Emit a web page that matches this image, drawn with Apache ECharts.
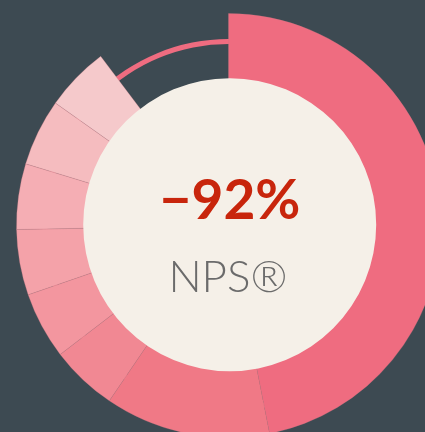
<!DOCTYPE html>
<html>
<head>
<meta charset="utf-8">
<script src="https://cdn.jsdelivr.net/npm/echarts@6/dist/echarts.min.js"></script>
<style>
  html, body { margin: 0; padding: 0; background: #3d4a52; }
  #chart { width: 425px; height: 432px; }
</style>
</head>
<body>
<div id="chart"></div>
<script>
// score buckets, share of answers (percent), last one is the empty gap
const categories = ['0', '1', '2', '3', '4', '5', '6', '7', 'rest'];
const shares = [46.9, 12.6, 5.1, 5.1, 5.0, 5.0, 5.1, 4.9, 10.3];
const colors = ['#ef6c80', '#f07986', '#f18893', '#f3969f', '#f4a2a9', '#f5aeb4', '#f5bcbf', '#f5c9cb', 'transparent'];
const npsValue = '\u221292%';
const npsLabel = 'NPS\u00ae';

const chart = echarts.init(document.getElementById('chart'));

const last = categories.length - 1;
const pieData = categories.map((c, i) => ({
  name: c,
  value: shares[i],
  itemStyle: {
    color: colors[i],
    borderColor: i === last ? 'transparent' : 'rgba(200,120,130,0.55)',
    borderWidth: i === last ? 0 : 0.5
  }
}));

chart.setOption({
  backgroundColor: '#3d4a52',
  animation: false,
  series: [
    {
      // thin ring behind the segments, only visible in the gap
      type: 'pie',
      silent: true,
      center: [228.5, 225],
      radius: [181, 186],
      label: { show: false },
      data: [{ value: 1, itemStyle: { color: '#ef6c80' } }]
    },
    {
      type: 'pie',
      silent: true,
      center: [228.5, 225.5],
      radius: [100, 212],
      startAngle: 90,
      clockwise: true,
      label: { show: false },
      labelLine: { show: false },
      data: pieData
    },
    {
      type: 'pie',
      silent: true,
      center: [229.7, 224.7],
      radius: [0, 146.5],
      label: { show: false },
      data: [{ value: 1, itemStyle: { color: '#f5f0e8' } }]
    }
  ],
  graphic: [
    {
      type: 'text',
      x: 230,
      y: 201,
      z: 100,
      style: {
        text: npsValue,
        fontFamily: 'Lato',
        fontWeight: 'bold',
        fontSize: 55,
        fill: '#c8250c',
        align: 'center',
        verticalAlign: 'middle'
      }
    },
    {
      type: 'text',
      x: 228,
      y: 278,
      z: 100,
      style: {
        text: npsLabel,
        fontFamily: 'Lato',
        fontWeight: 300,
        fontSize: 44,
        fill: '#6b6b6b',
        align: 'center',
        verticalAlign: 'middle'
      }
    }
  ]
});
</script>
</body>
</html>
